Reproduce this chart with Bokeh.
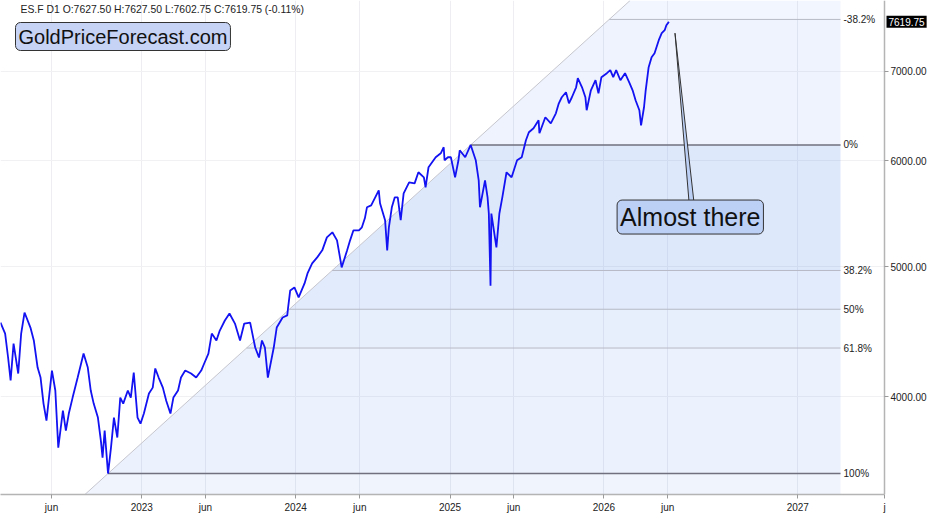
import math
import pandas as pd
from bokeh.plotting import figure
from bokeh.models import (Range1d, FixedTicker, PrintfTickFormatter, Label,
                          ColumnDataSource, CustomJSTickFormatter)
from bokeh.core.properties import value
from bokeh.embed import file_html
from bokeh.resources import INLINE

# ---------------- data ----------------
dates = [
    "2022-01-31", "2022-02-11", "2022-02-18", "2022-02-24", "2022-03-03", "2022-03-14", "2022-03-21", "2022-03-29",
    "2022-04-12", "2022-04-20", "2022-04-29", "2022-05-06", "2022-05-13", "2022-05-20", "2022-06-02", "2022-06-10",
    "2022-06-17", "2022-06-28", "2022-07-05", "2022-07-12", "2022-07-21", "2022-08-02", "2022-08-16", "2022-08-26",
    "2022-09-02", "2022-09-09", "2022-09-19", "2022-09-26", "2022-09-30", "2022-10-05", "2022-10-13", "2022-10-20",
    "2022-10-27", "2022-11-04", "2022-11-11", "2022-11-18", "2022-11-29", "2022-12-06", "2022-12-13", "2022-12-22",
    "2022-12-29",
    "2023-01-06", "2023-01-18", "2023-01-27", "2023-02-02", "2023-02-10", "2023-02-20", "2023-02-28", "2023-03-10",
    "2023-03-17", "2023-03-28", "2023-04-04", "2023-04-14", "2023-04-28", "2023-05-10", "2023-05-22", "2023-05-29",
    "2023-06-08", "2023-06-16", "2023-06-27", "2023-07-05", "2023-07-17", "2023-07-28", "2023-08-10", "2023-08-22",
    "2023-09-01", "2023-09-15", "2023-09-27", "2023-10-06", "2023-10-13", "2023-10-20", "2023-10-27", "2023-11-10",
    "2023-11-17", "2023-12-01", "2023-12-12", "2023-12-14", "2023-12-19", "2023-12-29",
    "2024-01-08", "2024-01-22", "2024-01-29", "2024-02-09", "2024-02-21", "2024-03-04", "2024-03-15", "2024-03-28",
    "2024-04-08", "2024-04-15", "2024-04-19", "2024-05-02", "2024-05-09", "2024-05-17", "2024-05-30", "2024-06-06",
    "2024-06-13", "2024-06-18", "2024-06-28", "2024-07-16", "2024-07-19", "2024-07-31", "2024-08-05", "2024-08-09",
    "2024-08-16", "2024-08-23", "2024-08-30", "2024-09-06", "2024-09-13", "2024-09-26", "2024-10-09", "2024-10-18",
    "2024-10-31", "2024-11-04", "2024-11-11", "2024-11-28", "2024-12-10", "2024-12-17", "2024-12-19", "2024-12-27",
    "2025-01-03", "2025-01-13", "2025-01-21", "2025-01-24", "2025-02-06", "2025-02-19", "2025-03-03", "2025-03-10",
    "2025-03-13", "2025-03-25", "2025-03-31", "2025-04-03", "2025-04-07", "2025-04-09", "2025-04-21", "2025-04-28",
    "2025-05-05", "2025-05-15", "2025-05-27", "2025-06-09", "2025-06-20", "2025-06-30", "2025-07-07", "2025-07-18",
    "2025-07-30", "2025-08-01", "2025-08-15", "2025-08-28", "2025-09-09", "2025-09-16", "2025-09-23", "2025-10-03",
    "2025-10-10", "2025-10-17", "2025-10-27", "2025-10-31", "2025-11-10", "2025-11-18", "2025-11-21", "2025-12-01",
    "2025-12-12", "2025-12-19", "2025-12-26",
    "2026-01-08", "2026-01-16", "2026-01-23", "2026-01-30", "2026-02-09", "2026-02-20", "2026-03-03", "2026-03-10",
    "2026-03-17", "2026-03-26", "2026-03-30", "2026-04-06", "2026-04-10", "2026-04-17", "2026-04-24", "2026-05-01",
    "2026-05-11", "2026-05-18", "2026-05-25", "2026-05-29", "2026-06-04",
]
closes = [
    4543, 4458, 4278, 4112, 4382, 4162, 4458, 4622, 4504, 4405, 4205, 4133, 3952, 3838, 4183, 4042,
    3664, 3905, 3773, 3885, 3993, 4133, 4307, 4205, 4042, 3952, 3858, 3708, 3601, 3773, 3504, 3664,
    3858, 3728, 3993, 3952, 4042, 3993, 4169, 3858, 3818,
    3885, 4021, 4062, 4198, 4133, 4062, 3972, 3885, 3993, 4042, 4133, 4183, 4162, 4133, 4183, 4234,
    4307, 4458, 4405, 4481, 4559, 4614, 4535, 4405, 4535, 4543, 4352, 4278, 4405, 4352, 4133, 4352,
    4504, 4583, 4599, 4662, 4801, 4826,
    4744, 4859, 4944, 5030, 5082, 5144, 5260, 5306, 5233, 5082, 4995, 5144, 5233, 5324, 5324, 5352,
    5435, 5539, 5558, 5703, 5578, 5417, 5144, 5352, 5539, 5635, 5635, 5417, 5674, 5782, 5772, 5883,
    5832, 5733, 5934, 6037, 6078, 6142, 6006, 6037,
    6037, 5832, 6006, 6110, 6037, 6166, 6006, 5802, 5539, 5802, 5635, 5480, 4840, 5480, 5170, 5480,
    5635, 5883, 5832, 6006, 6037, 6216, 6302, 6346, 6434, 6292, 6467, 6400, 6511, 6624, 6693, 6751,
    6624, 6693, 6809, 6916, 6809, 6693, 6545, 6774, 6892, 6739, 6928,
    6976, 7012, 6928, 7012, 6892, 6976, 6856, 6774, 6659, 6545, 6378, 6579, 6774, 7048, 7170, 7220,
    7383, 7473, 7511, 7576, 7619.75,
]

tick_dates = ["2022-06-01", "2023-01-01", "2023-06-01", "2024-01-01", "2024-06-01", "2025-01-01",
              "2025-06-01", "2026-01-01", "2026-06-01", "2027-01-01", "2027-05-23"]
tick_labels = ["jun", "2023", "jun", "2024", "jun", "2025", "jun", "2026", "jun", "2027", "j"]
price_ticks = [4000, 5000, 6000, 7000]

fib_low_date, fib_low = "2022-10-13", 3504.0
fib_high_date, fib_high = "2025-02-19", 6166.0
fib_ratios = [-0.382, 0.0, 0.382, 0.5, 0.618, 1.0]
fib_labels = ["-38.2%", "0%", "38.2%", "50%", "61.8%", "100%"]
fib_end_date = "2027-03-12"

header = "ES.F D1 O:7627.50 H:7627.50 L:7602.75 C:7619.75 (-0.11%)"
last_price = 7619.75

# ---------------- x mapping: trading bars in history, calendar days ahead ----------------
t0 = pd.Timestamp(dates[0])
t_last = pd.Timestamp(dates[-1])
BARS_PER_DAY = 252 / 365


def xpos(d):
    d = pd.Timestamp(d)
    if d <= t_last:
        return (d - t0).days * BARS_PER_DAY
    return (t_last - t0).days * BARS_PER_DAY + (d - t_last).days


FRAME_W, AXIS_PX = 945, 884
x_vals = [xpos(d) for d in dates]
x_axis = xpos("2027-05-23")             # where the price scale sits
x_end = x_axis * FRAME_W / AXIS_PX      # frame continues under the price scale
y_lo, y_hi = 3380, 7905

p = figure(frame_width=FRAME_W, frame_height=494, x_range=Range1d(0, x_end),
           y_range=Range1d(y_lo, y_hi), y_axis_type="log", y_axis_location="right",
           output_backend="svg", toolbar_location=None, min_border=0,
           background_fill_color="white", border_fill_color="white")
p.outline_line_color = None

# axes
tick_x = [xpos(d) for d in tick_dates]
xt = FixedTicker(ticks=tick_x)
p.xaxis.ticker = xt
p.xaxis.bounds = (0, x_axis)
p.xaxis.formatter = CustomJSTickFormatter(args=dict(tpos=tick_x, tlab=tick_labels), code="""
let best = 0, bd = Infinity;
for (let i = 0; i < tpos.length; i++) { const d = Math.abs(tpos[i] - tick); if (d < bd) { bd = d; best = i; } }
return tlab[best];
""")
yt = FixedTicker(ticks=price_ticks)
p.yaxis.ticker = yt
p.yaxis.fixed_location = x_axis
p.yaxis.formatter = PrintfTickFormatter(format="%.2f")
p.xgrid.ticker = xt
p.ygrid.ticker = yt
try:
    p.ygrid.cross_bounds = (0, x_axis)
except Exception:
    pass
for ax in (p.xaxis, p.yaxis):
    ax.axis_line_color = "#b4b4b4"
    ax.axis_line_width = 1.5
    ax.major_tick_line_color = "#9a9a9a"
    ax.major_tick_out = 4
    ax.major_tick_in = 0
    ax.minor_tick_line_color = None
    ax.major_label_text_font = "Liberation Sans"
    ax.major_label_text_font_size = "10px"
    ax.major_label_text_color = "#222222"
p.xaxis.major_label_standoff = 3
p.yaxis.major_label_standoff = 2
p.xgrid.grid_line_color = "#eeeef2"
p.ygrid.grid_line_color = "#f1f1f3"

# ---------------- fibonacci wedge ----------------
xl, xh = xpos(fib_low_date), xpos(fib_high_date)
ll, lh = math.log10(fib_low), math.log10(fib_high)


def xdiag(price):
    return xl + (math.log10(price) - ll) / (lh - ll) * (xh - xl)


levels = [10 ** (lh - r * (lh - ll)) for r in fib_ratios]
x_fe = xpos(fib_end_date)

bounds = sorted([y_lo] + levels + [y_hi])
alphas = {0: 0.085, 1: 0.105, 2: 0.13, 3: 0.155, 4: 0.18, 5: 0.09, 6: 0.07}
for i in range(len(bounds) - 1):
    a, b = bounds[i], bounds[i + 1]
    p.patch([xdiag(a), x_fe, x_fe, xdiag(b)], [a, a, b, b],
            fill_color="#467deb", fill_alpha=alphas[i], line_color=None)

# diagonal trend line
p.line([xdiag(y_lo), xdiag(y_hi)], [y_lo, y_hi], line_color="#c6c6ce", line_width=1)

strong = [r in (0.0, 1.0) for r in fib_ratios]
lsrc = ColumnDataSource(dict(
    x0=[xdiag(v) for v in levels], x1=[x_fe] * len(levels), y=levels,
    color=["#70707e" if s else "#b6bac6" for s in strong],
    width=[1.6 if s else 1.0 for s in strong], label=fib_labels))
p.segment(x0="x0", y0="y", x1="x1", y1="y", source=lsrc, line_color="color", line_width="width")
p.text(x=x_fe, y="y", text="label", source=lsrc, x_offset=3, text_baseline="middle",
       text_align="left", text_font=value("Liberation Sans"), text_font_size="10px",
       text_color="#222222")

# ---------------- price line ----------------
src = ColumnDataSource(dict(x=x_vals, close=closes))
p.line(x="x", y="close", source=src, line_color="#1212f2", line_width=1.8)

# ---------------- annotations ----------------
p.add_layout(Label(x=20, y=485, x_units="screen", y_units="screen", text=header,
                   text_font="Liberation Sans", text_font_size="10.4px", text_color="#222222",
                   text_baseline="middle"))
p.add_layout(Label(x=15, y=458, x_units="screen", y_units="screen", text="GoldPriceForecast.com",
                   text_font="Liberation Sans", text_font_size="20px", text_color="#111111",
                   text_baseline="middle", background_fill_color="#c6d3f4",
                   border_line_color="#333333", border_line_width=1, padding=3, border_radius=5))

# callout pointer
tip_x, base_x0, base_x1 = xpos("2026-06-14"), xpos("2026-07-07"), xpos("2026-07-15")
p.patch([tip_x, base_x0, base_x1], [7473, 5590, 5590], fill_color="#bcd0f6",
        line_color="#333333", line_width=1)
p.add_layout(Label(x=xpos("2026-07-09"), y=5447, text="Almost there", text_font="Liberation Sans",
                   text_font_size="25px", text_color="#111111", text_align="center",
                   text_baseline="middle", background_fill_color="#bcd0f6",
                   border_line_color="#333333", border_line_width=1, padding=3, border_radius=5))

# last price tag on the price scale
p.add_layout(Label(x=x_axis, y=last_price, x_offset=2, text=f"{last_price:.2f}",
                   text_font="Liberation Sans", text_font_size="10px", text_color="white",
                   text_baseline="middle", background_fill_color="black", padding=2))

open("out.html", "w").write(file_html(p, INLINE))
